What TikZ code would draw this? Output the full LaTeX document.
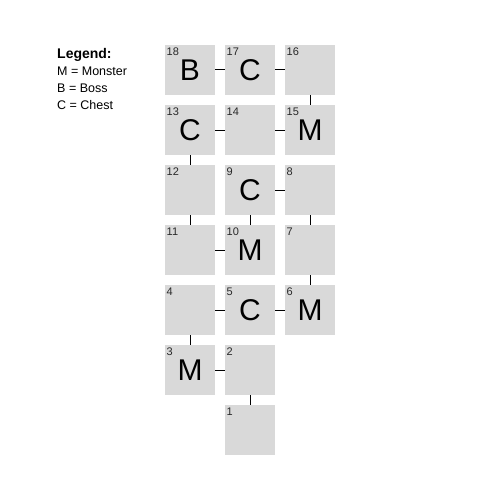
\documentclass[tikz,border=0pt]{standalone}
\usepackage{fontspec}
\setmainfont{Liberation Sans}
\usepackage{xcolor}
\usetikzlibrary{positioning}
\definecolor{roomgray}{RGB}{217,217,217}
\definecolor{numgray}{RGB}{40,40,40}

\begin{document}
\begin{tikzpicture}[x=1pt,y=-1pt,
 room/.style={rectangle,fill=roomgray,minimum size=50pt,inner sep=0pt,outer sep=0pt,font=\fontsize{30}{30}\selectfont},
 num/.style={anchor=north west,inner xsep=1.5pt,inner ysep=3pt,text=numgray,font=\fontsize{11}{13}\selectfont},
 link/.style={line width=1pt,black},
 legtext/.style={anchor=base west,inner sep=0pt,font=\fontsize{12.5}{14}\selectfont}]
 \fill[white] (0,0) rectangle (500,500);
 \useasboundingbox (0,0) rectangle (500,500);
 \node[legtext,font=\fontsize{14}{16}\selectfont\bfseries] (leg) at (57,58.7) {Legend:};
 \node[legtext] (legM) at (57,75.7) {M = Monster};
 \node[legtext] (legB) at (57,92.7) {B = Boss};
 \node[legtext] (legC) at (57,109.2) {C = Chest};
 \foreach \n/\x/\y/\t in {18/190/70/B,17/250/70/C,16/310/70/{},
 13/190/130/C,14/250/130/{},15/310/130/M,
 12/190/190/{},9/250/190/C,8/310/190/{},
 11/190/250/{},10/250/250/M,7/310/250/{},
 4/190/310/{},5/250/310/C,6/310/310/M,
 3/190/370/M,2/250/370/{},
 1/250/430/{}}{
 \node[room] (r\n) at (\x,\y) {\t};
 \node[num] (n\n) at (r\n.north west) {\n};
 }
 \foreach \a/\b in {18/17,17/16,16/15,15/14,14/13,13/12,12/11,11/10,10/9,9/8,8/7,7/6,6/5,5/4,4/3,3/2,2/1}
 \draw[link] (r\a) -- (r\b);
\end{tikzpicture}
\end{document}
